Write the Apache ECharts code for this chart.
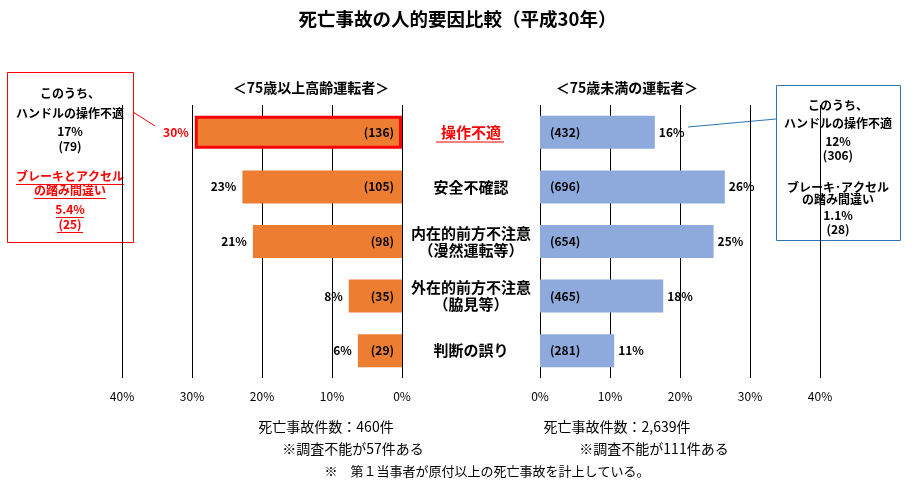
<!DOCTYPE html>
<html><head><meta charset="utf-8">
<script src="https://cdn.jsdelivr.net/npm/echarts@6/dist/echarts.min.js"></script>
<style>html,body{margin:0;padding:0;background:#fff}#c{width:915px;height:491px}</style>
</head><body><div id="c"></div>
<script>
const categories = ['操作不適','安全不確認','内在的前方不注意\n（漫然運転等）','外在的前方不注意\n（脇見等）','判断の誤り'];
const elderlyPct = [29.6, 22.8, 21.3, 7.6, 6.3];
const elderlyCount = [136, 105, 98, 35, 29];
const youngerPct = [16.4, 26.4, 24.8, 17.6, 10.6];
const youngerCount = [432, 696, 654, 465, 281];
const axisMin = 0, axisMax = 40, axisStep = 10;
const leftTitle = '＜75歳以上高齢運転者＞';
const rightTitle = '＜75歳未満の運転者＞';

const FF = '"Noto Sans CJK JP", "Noto Sans", sans-serif';
const chart = echarts.init(document.getElementById('c'));

function txt(text, x, y, size, color, bold) {
  return { type:'text', silent:true, style:{ text, x, y, textAlign:'center', verticalAlign:'middle',
    font:(bold?'bold ':'')+size+'px '+FF, fill: color||'#000' } };
}
function hline(x1,x2,y,color){
  return { type:'line', silent:true, shape:{x1,y1:y,x2,y2:y}, style:{stroke:color,lineWidth:1} };
}

const axisCommon = {
  type:'value', min:axisMin, max:axisMax, interval:axisStep,
  axisLine:{show:false}, axisTick:{show:false},
  axisLabel:{formatter:'{value}%', fontSize:12, color:'#000', fontFamily:FF, margin:12},
  splitLine:{show:true, lineStyle:{color:'#000', width:1}}
};

const option = {
  backgroundColor:'#fff',
  animation:false,
  title:{ text:'死亡事故の人的要因比較（平成30年）', left:'center', top:5,
    textStyle:{fontSize:18.5, fontWeight:'bold', color:'#000', fontFamily:FF} },
  grid:[
    {left:122, right:913-402+2, top:105, bottom:491-378},
    {left:540, right:915-820, top:105, bottom:491-378}
  ],
  xAxis:[
    Object.assign({gridIndex:0, inverse:true}, axisCommon),
    Object.assign({gridIndex:1}, axisCommon)
  ],
  yAxis:[
    {type:'category', gridIndex:0, data:categories, inverse:true, axisLine:{show:false}, axisTick:{show:false}, axisLabel:{show:false}},
    {type:'category', gridIndex:1, data:categories, inverse:true, axisLine:{show:false}, axisTick:{show:false},
     axisLabel:{show:true, align:'center', margin:69, fontSize:15, fontWeight:'bold', color:'#000', fontFamily:FF, lineHeight:17,
       formatter:(v,i)=> i===0 ? '{r|'+v+'}' : v,
       rich:{ r:{color:'#FF0000', fontSize:15, fontWeight:'bold', fontFamily:FF} } }}
  ],
  series:[
    { type:'bar', xAxisIndex:0, yAxisIndex:0, barWidth:33, z:2,
      itemStyle:{color:'#ED7D31'},
      data: elderlyPct.map((v,i)=> i===0 ? {value:v, itemStyle:{borderColor:'#FF0000', borderWidth:3}} : v),
      label:{show:true, position:'insideRight', distance:8, fontSize:12, fontWeight:'bold', color:'#000', fontFamily:FF,
        formatter:p=>'('+elderlyCount[p.dataIndex]+')'} },
    { type:'bar', xAxisIndex:0, yAxisIndex:0, barWidth:33, barGap:'-100%', z:3, silent:true,
      itemStyle:{color:'rgba(0,0,0,0)'},
      data: elderlyPct.map((v,i)=> i===0 ? {value:v, label:{color:'#FF0000'}} : v),
      label:{show:true, position:'left', distance:6, fontSize:12, fontWeight:'bold', color:'#000', fontFamily:FF,
        formatter:p=>Math.round(p.value)+'%'} },
    { type:'bar', xAxisIndex:1, yAxisIndex:1, barWidth:33, z:2,
      itemStyle:{color:'#8EA9DB'},
      data: youngerPct,
      label:{show:true, position:'insideLeft', distance:10, fontSize:12, fontWeight:'bold', color:'#000', fontFamily:FF,
        formatter:p=>'('+youngerCount[p.dataIndex]+')'} },
    { type:'bar', xAxisIndex:1, yAxisIndex:1, barWidth:33, barGap:'-100%', z:3, silent:true,
      itemStyle:{color:'rgba(0,0,0,0)'},
      data: youngerPct,
      label:{show:true, position:'right', distance:4, fontSize:12, fontWeight:'bold', color:'#000', fontFamily:FF,
        formatter:p=>Math.round(p.value)+'%'} }
  ],
  graphic:[
    txt(leftTitle, 311, 88, 14, '#000', true),
    txt(rightTitle, 627, 88, 14, '#000', true),
    hline(436, 504, 142, '#FF0000'),
    // left callout
    { type:'line', silent:true, shape:{x1:133,y1:112,x2:155,y2:126}, style:{stroke:'#FF0000',lineWidth:1} },
    { type:'rect', silent:true, shape:{x:7.5,y:72.5,width:126,height:170}, style:{fill:'#fff',stroke:'#FF0000',lineWidth:1} },
    txt('このうち、', 70, 93, 12, '#000', true),
    txt('ハンドルの操作不適', 70, 113, 12, '#000', true),
    txt('17%', 70, 131, 12, '#000', true),
    txt('(79)', 70, 146, 12, '#000', true),
    txt('ブレーキとアクセル', 70, 176, 12, '#FF0000', true),
    hline(16, 124, 184.5, '#FF0000'),
    txt('の踏み間違い', 70, 190, 12, '#FF0000', true),
    hline(34, 106, 198.5, '#FF0000'),
    txt('5.4%', 70, 209, 12, '#FF0000', true),
    hline(56, 84, 217.5, '#FF0000'),
    txt('(25)', 70, 224, 12, '#FF0000', true),
    hline(57, 83, 232.5, '#FF0000'),
    // right callout
    { type:'line', silent:true, shape:{x1:776,y1:119,x2:688,y2:127}, style:{stroke:'#2E75B6',lineWidth:1} },
    { type:'rect', silent:true, shape:{x:776.5,y:85.5,width:124,height:155}, style:{fill:'#fff',stroke:'#2E75B6',lineWidth:1} },
    txt('このうち、', 838, 105, 12, '#000', true),
    txt('ハンドルの操作不適', 838, 123, 12, '#000', true),
    txt('12%', 838, 141, 12, '#000', true),
    txt('(306)', 838, 155, 12, '#000', true),
    txt('ブレーキ･アクセル', 838, 187, 12, '#000', true),
    txt('の踏み間違い', 838, 199, 12, '#000', true),
    txt('1.1%', 838, 215, 12, '#000', true),
    txt('(28)', 838, 229, 12, '#000', true),
    // bottom notes
    txt('死亡事故件数：460件', 326, 427, 14, '#000', false),
    txt('※調査不能が57件ある', 353, 449, 14, '#000', false),
    txt('死亡事故件数：2,639件', 617, 427, 14, '#000', false),
    txt('※調査不能が111件ある', 654, 449, 14, '#000', false),
    txt('※　第１当事者が原付以上の死亡事故を計上している。', 487, 471, 13, '#000', false)
  ]
};
chart.setOption(option);
</script>
</body></html>
